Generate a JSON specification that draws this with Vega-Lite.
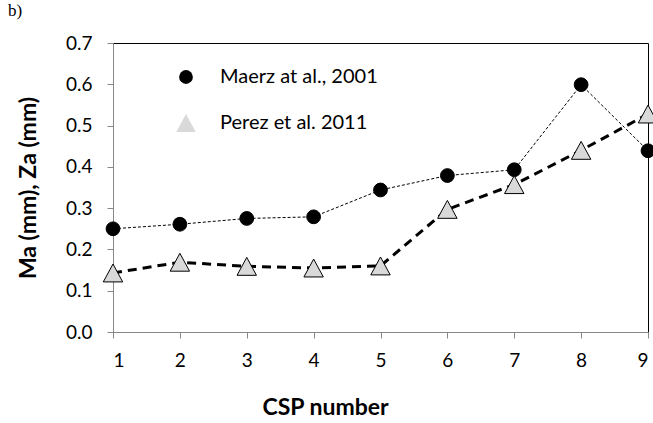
{
  "$schema": "https://vega.github.io/schema/vega-lite/v6.json",
  "width": 535,
  "height": 289,
  "autosize": {"type": "none"},
  "padding": {"left": 113, "top": 43, "right": 5, "bottom": 91},
  "background": "white",
  "title": {"text": "b)", "anchor": "start", "frame": "group", "font": "Liberation Serif", "fontSize": 17, "fontWeight": "normal", "color": "black", "dx": -105, "offset": 14},
  "config": {
    "view": {"stroke": "black", "strokeWidth": 1},
    "font": "Lato"
  },
  "data": {"values": [
    {"series": "Maerz at al., 2001", "csp": 1, "value": 0.250},
    {"series": "Maerz at al., 2001", "csp": 2, "value": 0.261},
    {"series": "Maerz at al., 2001", "csp": 3, "value": 0.275},
    {"series": "Maerz at al., 2001", "csp": 4, "value": 0.279},
    {"series": "Maerz at al., 2001", "csp": 5, "value": 0.344},
    {"series": "Maerz at al., 2001", "csp": 6, "value": 0.379},
    {"series": "Maerz at al., 2001", "csp": 7, "value": 0.393},
    {"series": "Maerz at al., 2001", "csp": 8, "value": 0.599},
    {"series": "Maerz at al., 2001", "csp": 9, "value": 0.439},
    {"series": "Perez et al. 2011", "csp": 1, "value": 0.143},
    {"series": "Perez et al. 2011", "csp": 2, "value": 0.169},
    {"series": "Perez et al. 2011", "csp": 3, "value": 0.159},
    {"series": "Perez et al. 2011", "csp": 4, "value": 0.155},
    {"series": "Perez et al. 2011", "csp": 5, "value": 0.160},
    {"series": "Perez et al. 2011", "csp": 6, "value": 0.297},
    {"series": "Perez et al. 2011", "csp": 7, "value": 0.357},
    {"series": "Perez et al. 2011", "csp": 8, "value": 0.440},
    {"series": "Perez et al. 2011", "csp": 9, "value": 0.528}
  ]},
  "encoding": {
    "x": {"field": "csp", "type": "quantitative",
      "scale": {"domain": [1, 9], "nice": false, "zero": false},
      "axis": {"title": "CSP number", "values": [1,2,3,4,5,6,7,8,9], "format": "d", "grid": false,
        "domainColor": "#888888", "tickColor": "#888888", "tickSize": 6,
        "labelFontSize": 19, "labelColor": "black", "labelPadding": 13, "labelFont": "Lato",
        "titleFontSize": 23, "titleFontWeight": "bold", "titleColor": "black", "titleFont": "Lato", "titlePadding": 26, "titleX": 212}},
    "y": {"field": "value", "type": "quantitative",
      "scale": {"domain": [0, 0.7], "nice": false},
      "axis": {"title": "Ma (mm), Za (mm)", "values": [0,0.1,0.2,0.3,0.4,0.5,0.6,0.7], "format": ".1f", "grid": false,
        "domainColor": "#888888", "tickColor": "#888888", "tickSize": 6,
        "labelFontSize": 19, "labelColor": "black", "labelPadding": 15, "labelFont": "Lato",
        "titleFontSize": 23, "titleFontWeight": "bold", "titleColor": "black", "titleFont": "Lato", "titlePadding": 25}}
  },
  "layer": [
    {
      "transform": [{"filter": "datum.series == 'Maerz at al., 2001'"}],
      "mark": {"type": "line", "color": "black", "strokeWidth": 1, "strokeDash": [3, 2]},
      "encoding": {}
    },
    {
      "transform": [{"filter": "datum.series == 'Perez et al. 2011'"}],
      "mark": {"type": "line", "color": "black", "strokeWidth": 3, "strokeDash": [9, 6]},
      "encoding": {}
    },
    {
      "mark": {"type": "point", "filled": true, "stroke": "black", "strokeWidth": 1, "opacity": 1, "size": 190},
      "encoding": {
        "fill": {"field": "series", "type": "nominal", "scale": {"domain": ["Maerz at al., 2001", "Perez et al. 2011"], "range": ["black", "#d9d9d9"]},
          "legend": {"title": null, "orient": "none", "legendX": 63, "legendY": 24, "padding": 0, "rowPadding": 25,
            "symbolSize": 190, "labelFontSize": 20, "labelFont": "Lato", "labelColor": "black", "labelOffset": 24,
            "symbolStrokeColor": "black", "symbolStrokeWidth": 1, "symbolOpacity": 1}},
        "shape": {"field": "series", "type": "nominal", "scale": {"domain": ["Maerz at al., 2001", "Perez et al. 2011"], "range": ["circle", "M0,-1.3L1.41,1.3L-1.41,1.3Z"]},
          "legend": {"title": null, "orient": "none", "legendX": 63, "legendY": 24, "padding": 0, "rowPadding": 25,
            "symbolSize": 190, "labelFontSize": 20, "labelFont": "Lato", "labelColor": "black", "labelOffset": 24,
            "symbolStrokeColor": "black", "symbolStrokeWidth": 1, "symbolOpacity": 1}
        }
      }
    }
  ]
}
